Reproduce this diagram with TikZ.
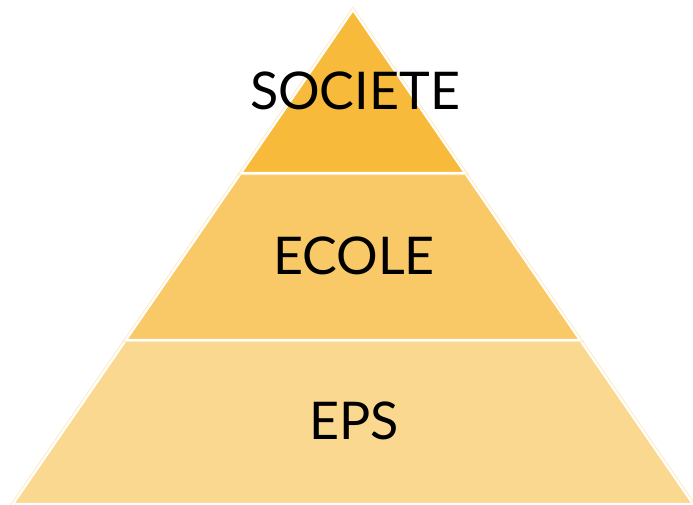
\documentclass[tikz,border=0pt]{standalone}
\usepackage{fontspec}
\setmainfont{Lato}
\usepackage{tikz}
\usetikzlibrary{positioning,calc}

\definecolor{topgold}{RGB}{248,186,58}
\definecolor{midgold}{RGB}{249,201,104}
\definecolor{lowgold}{RGB}{250,216,143}
\definecolor{rimgold}{RGB}{253,233,190}

\begin{document}
\begin{tikzpicture}[
    x=1pt, y=-1pt,
    tier/.style={draw=white, line width=2.2pt, line join=miter,
        preaction={draw=rimgold, line width=4pt}},
    label/.style={font=\fontsize{52}{52}\selectfont, text=black, inner sep=0pt}
]
    \useasboundingbox (0,0) rectangle (693,504);

    % corners of the three tiers
    \coordinate (apex) at (353,10);
    \coordinate (l1) at (241,173);
    \coordinate (r1) at (465,173);
    \coordinate (l2) at (126,340);
    \coordinate (r2) at (580,340);
    \coordinate (l3) at (13,504);
    \coordinate (r3) at (693,504);

    \filldraw[tier, fill=lowgold] (l2) -- (r2) -- (r3) -- (l3) -- cycle;
    \filldraw[tier, fill=midgold] (l1) -- (r1) -- (r2) -- (l2) -- cycle;
    \filldraw[tier, fill=topgold] (apex) -- (r1) -- (l1) -- cycle;

    \node[label] (societe) at (355,91) {SOCIETE};
    \node[label] (ecole) at (354,256) {ECOLE};
    \node[label] (eps) at (354,421) {EPS};
\end{tikzpicture}
\end{document}
